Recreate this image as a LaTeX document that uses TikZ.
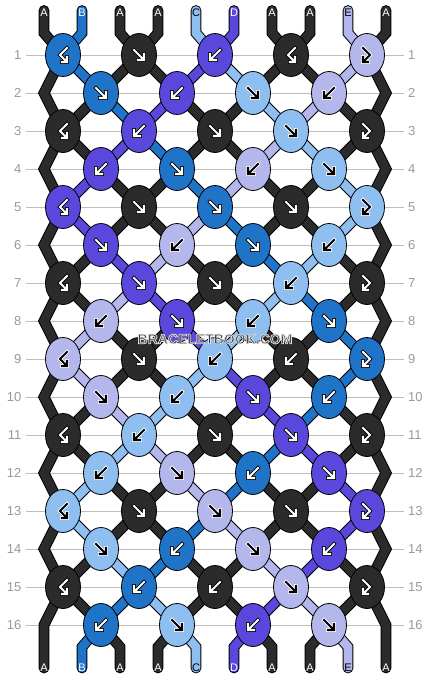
\documentclass[tikz,border=0pt]{standalone}
\usepackage{fontspec}
\setmainfont{Liberation Sans}
\usetikzlibrary{shapes.geometric}
\definecolor{cA}{HTML}{2B2B2B}
\definecolor{cB}{HTML}{1F74C8}
\definecolor{cC}{HTML}{8EBFF0}
\definecolor{cD}{HTML}{5A48DC}
\definecolor{cE}{HTML}{B4B7EB}
\colorlet{tA}{white}\colorlet{tB}{white}\colorlet{tC}{black}\colorlet{tD}{white}\colorlet{tE}{black}
\colorlet{oA}{black}\colorlet{oB}{black}\colorlet{oC}{white}\colorlet{oD}{black}\colorlet{oE}{white}
\definecolor{gridgrey}{HTML}{BDBDBD}
\definecolor{numgrey}{HTML}{9A9A9A}
\definecolor{markgrey}{HTML}{3A3A3A}
\pgfdeclarelayer{gridlayer}
\pgfdeclarelayer{strandlayer}
\pgfsetlayers{gridlayer,strandlayer,main}

\expandafter\def\csname st1\endcsname{A,B,A,A,D,C,A,A,E,A}
\expandafter\def\csname st2\endcsname{A,A,B,D,A,A,C,E,A,A}
\expandafter\def\csname st3\endcsname{A,A,D,B,A,A,E,C,A,A}
\expandafter\def\csname st4\endcsname{A,D,A,A,B,E,A,A,C,A}
\expandafter\def\csname st5\endcsname{A,D,A,A,E,B,A,A,C,A}
\expandafter\def\csname st6\endcsname{A,A,D,E,A,A,B,C,A,A}
\expandafter\def\csname st7\endcsname{A,A,E,D,A,A,C,B,A,A}
\expandafter\def\csname st8\endcsname{A,E,A,A,D,C,A,A,B,A}
\expandafter\def\csname st9\endcsname{A,E,A,A,C,D,A,A,B,A}
\expandafter\def\csname st10\endcsname{A,A,E,C,A,A,D,B,A,A}
\expandafter\def\csname st11\endcsname{A,A,C,E,A,A,B,D,A,A}
\expandafter\def\csname st12\endcsname{A,C,A,A,E,B,A,A,D,A}
\expandafter\def\csname st13\endcsname{A,C,A,A,B,E,A,A,D,A}
\expandafter\def\csname st14\endcsname{A,A,C,B,A,A,E,D,A,A}
\expandafter\def\csname st15\endcsname{A,A,B,C,A,A,D,E,A,A}

\newcommand\drawstrand[2]{%
  \draw[strandout] #2;
  \draw[strandin, color=c#1] #2;}

\newcommand\arrowF[2]{%
  \foreach \aw/\acol in {3.8/o#2, 2.1/t#2}{%
    \draw[arrowline, line width=\aw pt, color=\acol, shift={(#1)}]
      (-5,-5) -- (4,4) (-1,5) -- (5,5) -- (5,-1);}}
\newcommand\arrowB[2]{%
  \foreach \aw/\acol in {3.8/o#2, 2.1/t#2}{%
    \draw[arrowline, line width=\aw pt, color=\acol, shift={(#1)}]
      (5,-5) -- (-4,4) (1,5) -- (-5,5) -- (-5,-1);}}
\newcommand\arrowBF[2]{%
  \foreach \aw/\acol in {3.8/o#2, 2.1/t#2}{%
    \draw[arrowline, line width=\aw pt, color=\acol, shift={(#1)}]
      (4,-7) -- (-3,0) -- (3,6) (-1,7) -- (4,7) -- (4,2);}}
\newcommand\arrowFB[2]{%
  \foreach \aw/\acol in {3.8/o#2, 2.1/t#2}{%
    \draw[arrowline, line width=\aw pt, color=\acol, shift={(#1)}]
      (-4,-7) -- (3,0) -- (-3,6) (1,7) -- (-4,7) -- (-4,2);}}

\newcommand\haloText[1]{%
  \special{pdf:literal direct 2 Tr 0.8 w 0.88 0.88 0.88 RG}#1\special{pdf:literal direct 0 Tr 0 w}}

\begin{document}
\begin{tikzpicture}[x=1pt,y=-1pt,
  knot/.style={ellipse, minimum width=35pt, minimum height=43pt, inner sep=0pt, draw=black, line width=0.8pt},
  strandout/.style={line width=10.8pt, color=black, line cap=round, line join=miter},
  strandin/.style={line width=8.8pt, line cap=round, line join=miter},
  arrowline/.style={line cap=rect, line join=miter},
  gridline/.style={draw=gridgrey, line width=1pt},
  rownum/.style={text=numgrey, font=\fontsize{13}{13}\selectfont, inner sep=0pt},
  strandlab/.style={font=\fontsize{11}{11}\selectfont, inner sep=0pt},
  watermark/.style={text=markgrey, font=\fontsize{14}{14}\selectfont\bfseries, inner sep=0pt}]
\useasboundingbox (0,0) rectangle (430,680);

% row numbers
\foreach \kr in {1,...,16}{
  \pgfmathsetmacro\ky{55+38*(\kr-1)}
  \node[rownum, anchor=east] (nl\kr) at (21.5,\ky) {\kr};
  \node[rownum, anchor=west] (nr\kr) at (408,\ky) {\kr};
}

% knots
\foreach \kr/\ki/\kc/\kt in {
1/1/B/BF, 1/2/A/F, 1/3/D/B, 1/4/A/BF, 1/5/E/FB,
2/1/B/F, 2/2/D/B, 2/3/C/F, 2/4/E/B,
3/1/A/BF, 3/2/D/B, 3/3/A/F, 3/4/C/F, 3/5/A/FB,
4/1/D/B, 4/2/B/F, 4/3/E/B, 4/4/C/F,
5/1/D/BF, 5/2/A/F, 5/3/B/F, 5/4/A/F, 5/5/C/FB,
6/1/D/F, 6/2/E/B, 6/3/B/F, 6/4/C/B,
7/1/A/BF, 7/2/D/F, 7/3/A/F, 7/4/C/B, 7/5/A/FB,
8/1/E/B, 8/2/D/F, 8/3/C/B, 8/4/B/F,
9/1/E/BF, 9/2/A/F, 9/3/C/B, 9/4/A/B, 9/5/B/FB,
10/1/E/F, 10/2/C/B, 10/3/D/F, 10/4/B/B,
11/1/A/BF, 11/2/C/B, 11/3/A/F, 11/4/D/F, 11/5/A/FB,
12/1/C/B, 12/2/E/F, 12/3/B/B, 12/4/D/F,
13/1/C/BF, 13/2/A/F, 13/3/E/F, 13/4/A/F, 13/5/D/FB,
14/1/C/F, 14/2/B/B, 14/3/E/F, 14/4/D/B,
15/1/A/BF, 15/2/B/B, 15/3/A/B, 15/4/E/F, 15/5/A/FB,
16/1/B/B, 16/2/C/F, 16/3/D/B, 16/4/E/F}{
  \pgfmathsetmacro\kx{63+38*mod(\kr+1,2)+76*(\ki-1)}
  \pgfmathsetmacro\ky{55+38*(\kr-1)}
  \node[knot, fill=c\kc] (k\kr-\ki) at (\kx,\ky) {};
  \csname arrow\kt\endcsname{k\kr-\ki}{\kc}
}

% strand labels
\foreach \sc [count=\p from 0] in {A,B,A,A,C,D,A,A,E,A}{
  \node[strandlab, text=t\sc] (lt\p) at (44+38*\p,12.5) {\sc};
  \node[strandlab, text=t\sc] (lb\p) at (44+38*\p,668) {\sc};
}

% watermark
\node[watermark] (wm) at (215,339) {\haloText{BRACELETBOOK.COM}};

% edge coordinates
\coordinate (Ltop) at (44,10.5);
\coordinate (Lbend) at (44,33);
\coordinate (Lend) at (44,668);
\coordinate (Rtop) at (386,10.5);
\coordinate (Rbend) at (386,33);
\coordinate (Rend) at (386,668);
\foreach \e in {2,4,...,16}{
  \coordinate (L\e) at (44,{55+38*(\e-1)});
  \coordinate (R\e) at (386,{55+38*(\e-1)});
}

\begin{pgfonlayer}{gridlayer}
  \fill[white] (0,0) rectangle (430,680);
  \foreach \kr in {1,...,16}{
    \draw[gridline, shorten <=4.5pt, shorten >=4pt] (nl\kr.east) -- (nr\kr.west);
  }
\end{pgfonlayer}

\begin{pgfonlayer}{strandlayer}
  % edge strands
  \drawstrand{A}{(Ltop) -- (Lbend) -- (k1-1.center) -- (L2) -- (k3-1.center) -- (L4) -- (k5-1.center) -- (L6) -- (k7-1.center) -- (L8) -- (k9-1.center) -- (L10) -- (k11-1.center) -- (L12) -- (k13-1.center) -- (L14) -- (k15-1.center) -- (L16) -- (Lend)}
  \drawstrand{A}{(Rtop) -- (Rbend) -- (k1-5.center) -- (R2) -- (k3-5.center) -- (R4) -- (k5-5.center) -- (R6) -- (k7-5.center) -- (R8) -- (k9-5.center) -- (R10) -- (k11-5.center) -- (R12) -- (k13-5.center) -- (R14) -- (k15-5.center) -- (R16) -- (Rend)}
  % top and bottom strands
  \foreach \sc [count=\p from 0] in {A,B,A,A,C,D,A,A,E,A}{
    \ifnum\p>0 \ifnum\p<9
      \pgfmathtruncatemacro\ha{\p/2+1}
      \pgfmathtruncatemacro\hb{(\p+1)/2}
      \pgfmathsetmacro\px{44+38*\p}
      \coordinate (ts\p) at (\px,10.5);
      \coordinate (tb\p) at (\px,33);
      \coordinate (bb\p) at (\px,647);
      \coordinate (be\p) at (\px,668);
      \drawstrand{\sc}{(ts\p) -- (tb\p) -- (k1-\ha.center)}
      \drawstrand{\sc}{(k16-\hb.center) -- (bb\p) -- (be\p)}
    \fi\fi
  }
  % inner segments
  \foreach \kr in {1,...,15}{
    \expandafter\let\expandafter\cur\csname st\kr\endcsname
    \pgfmathtruncatemacro\rn{\kr+1}
    \foreach \sc [count=\p from 0] in \cur {
      \ifnum\p>0 \ifnum\p<9
        \pgfmathtruncatemacro\ha{\p/2+1}
        \pgfmathtruncatemacro\hb{(\p+1)/2}
        \ifodd\kr\relax \edef\src{\ha}\edef\tgt{\hb}\else \edef\src{\hb}\edef\tgt{\ha}\fi
        \drawstrand{\sc}{(k\kr-\src.center) -- (k\rn-\tgt.center)}
      \fi\fi
    }
  }
\end{pgfonlayer}
\end{tikzpicture}
\end{document}
